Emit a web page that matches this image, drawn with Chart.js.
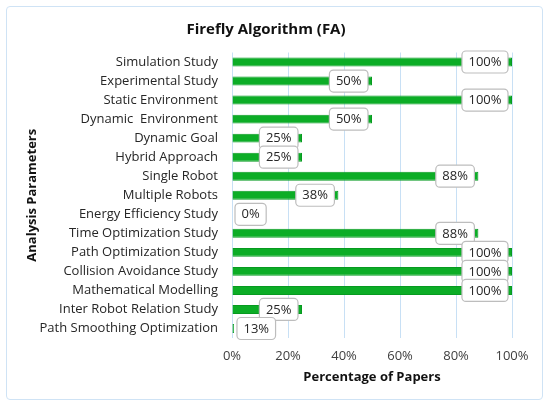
<!DOCTYPE html>
<html>
<head>
<meta charset="utf-8">
<script src="https://cdn.jsdelivr.net/npm/chart.js@4.4.1/dist/chart.umd.min.js"></script>
<style>
  html, body { margin: 0; padding: 0; background: #fff; }
  #wrap { position: relative; width: 550px; height: 407px; }
  #frame {
    position: absolute; left: 6px; top: 6px; width: 535px; height: 392px;
    border: 1.5px solid #cfe3f5; border-radius: 4px; pointer-events: none;
  }
</style>
</head>
<body>
<div id="wrap">
  <canvas id="faChart" width="550" height="407"></canvas>
  <div id="frame"></div>
</div>
<script>
// chart data
const categories = [
    'Simulation Study',
    'Experimental Study',
    'Static Environment',
    'Dynamic  Environment',
    'Dynamic Goal',
    'Hybrid Approach',
    'Single Robot',
    'Multiple Robots',
    'Energy Efficiency Study',
    'Time Optimization Study',
    'Path Optimization Study',
    'Collision Avoidance Study',
    'Mathematical Modelling',
    'Inter Robot Relation Study',
    'Path Smoothing Optimization'
];
// bar lengths as drawn in the picture
const barValues = [100, 50, 100, 50, 25, 25, 88, 38, 0, 88, 100, 100, 100, 25, 0.7];
// data labels as printed in the picture
const labelTexts = ['100%', '50%', '100%', '50%', '25%', '25%', '88%', '38%', '0%', '88%', '100%', '100%', '100%', '25%', '13%'];
const xTicks = [0, 20, 40, 60, 80, 100];

const FONT = "'Open Sans', 'Noto Sans', sans-serif";

// draws the white rounded label boxes at the bar ends
const boxLabels = {
    id: 'boxLabels',
    afterDatasetsDraw(chart) {
        const ctx = chart.ctx;
        const meta = chart.getDatasetMeta(0);
        ctx.save();
        ctx.font = '13px ' + FONT;
        ctx.textBaseline = 'middle';
        ctx.textAlign = 'center';
        meta.data.forEach((bar, i) => {
            const txt = labelTexts[i];
            const w = ctx.measureText(txt).width + 13;
            const h = 22;
            const len = bar.x - bar.base;
            let left;
            if (len >= w + 8) {
                left = bar.x - 4 - w;
            } else {
                left = bar.x + 3;
            }
            const top = bar.y - h / 2;
            ctx.beginPath();
            ctx.roundRect(left, top, w, h, 4);
            ctx.fillStyle = '#ffffff';
            ctx.fill();
            ctx.lineWidth = 1.2;
            ctx.strokeStyle = '#bdbdbd';
            ctx.stroke();
            ctx.fillStyle = '#262626';
            ctx.fillText(txt, left + w / 2, bar.y + 0.5);
        });
        ctx.restore();
    }
};

new Chart(document.getElementById('faChart'), {
    type: 'bar',
    data: {
        labels: categories,
        datasets: [{
            data: barValues,
            backgroundColor: '#0cad26',
            borderColor: '#079a20',
            borderWidth: 1,
            categoryPercentage: 1,
            barPercentage: 0.47
        }]
    },
    options: {
        indexAxis: 'y',
        responsive: false,
        animation: false,
        events: [],
        layout: {
            padding: { left: 20, right: 38, top: 0, bottom: 20 }
        },
        plugins: {
            legend: { display: false },
            tooltip: { enabled: false },
            title: {
                display: true,
                text: 'Firefly Algorithm (FA)',
                color: '#111111',
                font: { family: FONT, size: 15, weight: 'bold' },
                padding: { top: 20.5, bottom: 14 }
            }
        },
        scales: {
            x: {
                min: 0,
                max: 100,
                afterBuildTicks: scale => {
                    scale.ticks = xTicks.map(v => ({ value: v }));
                },
                afterFit: scale => { scale.height = 49; },
                ticks: {
                    padding: 10,
                    color: '#404040',
                    font: { family: FONT, size: 13 },
                    callback: v => v + '%'
                },
                grid: { color: '#c8e0f5', lineWidth: 1, drawTicks: false },
                border: { display: false },
                title: {
                    display: true,
                    text: 'Percentage of Papers',
                    color: '#111111',
                    font: { family: FONT, size: 13, weight: 'bold' },
                    padding: { top: 0, bottom: 2 }
                }
            },
            y: {
                afterFit: scale => { scale.width = 212; },
                ticks: {
                    padding: 14,
                    color: '#262626',
                    font: { family: FONT, size: 13 }
                },
                grid: { display: false, drawTicks: false },
                border: { display: false },
                title: {
                    display: true,
                    text: 'Analysis Parameters',
                    color: '#111111',
                    font: { family: FONT, size: 13, weight: 'bold' },
                    padding: { top: 4, bottom: 0 }
                }
            }
        }
    },
    plugins: [boxLabels]
});
</script>
</body>
</html>
